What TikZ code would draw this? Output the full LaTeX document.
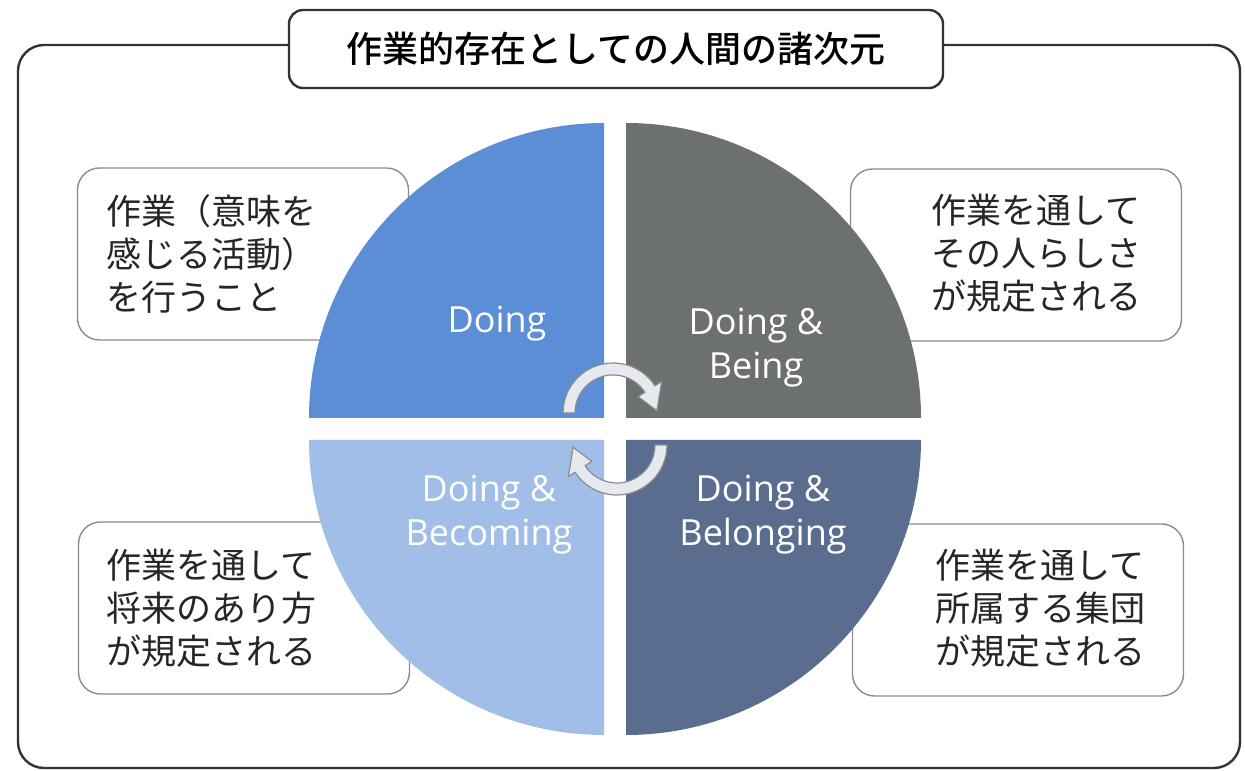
\documentclass[tikz,border=0pt]{standalone}
\usepackage{fontspec}
\setmainfont{Open Sans}
\newfontfamily\jpfont{Noto Sans CJK JP}
\newfontfamily\jptitle{Noto Sans CJK JP Medium}
\usepackage{tikz}
\usetikzlibrary{arrows,shapes}
\definecolor{qdoing}{HTML}{5C8ED6}
\definecolor{qbeing}{HTML}{6C706E}
\definecolor{qbecoming}{HTML}{A0BEE8}
\definecolor{qbelonging}{HTML}{5B6D8E}
\definecolor{turnfill}{HTML}{E6E9EF}

\begin{document}
\begin{tikzpicture}[x=1pt, y=1pt,
	notebox/.style={draw=black!45, line width=1.4pt, rounded corners=22pt, fill=white,
		minimum width=331pt, minimum height=172pt},
	notetext/.style={font=\jpfont\fontsize{35}{43}\selectfont, text=black!85, align=left,
		inner sep=0pt, anchor=west},
	quadlabel/.style={font=\fontsize{36}{44}\selectfont, text=white, align=center},
	turnarrow/.style={fill=turnfill, draw=black!45, line width=1.2pt}]
					\useasboundingbox (0,0) rectangle (1245,771);
					% Draw the outer frame
					\draw[black!80, line width=2.4pt, rounded corners=26pt] (18,3) rectangle (1240,726);
					% First we draw the note boxes, they sit behind the circle
					\foreach \pos/\name in {{(243,517)/noteTL}, {(1016,516)/noteTR},
					                        {(244,163)/noteBL}, {(1018,161)/noteBR}}
						\node[notebox] (\name) at \pos {};
					% Then the four quarters of the circle
					\foreach \cx/\cy/\start/\col in {604/353/90/qdoing, 626/353/0/qbeing,
					                                  604/331/180/qbecoming, 626/331/270/qbelonging}
						\fill[\col] (\cx,\cy) -- ++(\start:295) arc[start angle=\start, delta angle=90, radius=295] -- cycle;
					% Quarter labels
					\node[quadlabel, anchor=base] (doing) at (497,438) {Doing};
					\node[quadlabel] (being) at (756,423) {Doing \&\\Being};
					\node[quadlabel] (becoming) at (489,256) {Doing \&\\Becoming};
					\node[quadlabel] (belonging) at (763,256) {Doing \&\\Belonging};
					% The two turning arrows in the middle
					\filldraw[turnarrow, shift={(613,358)}] (180:50) arc[start angle=180, end angle=33, radius=50]
						-- (33:58) -- (3:44) -- (33:30) -- (33:38) arc[start angle=33, end angle=180, radius=38] -- cycle;
					\filldraw[turnarrow, shift={(617,326)}] (0:50) arc[start angle=0, end angle=-147, radius=50]
						-- (-147:58) -- (-177:44) -- (-147:30) -- (-147:38) arc[start angle=-147, end angle=0, radius=38] -- cycle;
					% Texts of the notes
					\node[notetext] (textTL) at (106,517) {作業（意味を\\感じる活動）\\を行うこと};
					\node[notetext] (textTR) at (931,518) {作業を通して\\その人らしさ\\が規定される};
					\node[notetext] (textBL) at (106,163) {作業を通して\\将来のあり方\\が規定される};
					\node[notetext] (textBR) at (935,163) {作業を通して\\所属する集団\\が規定される};
					% Title on top of the frame
					\node[draw=black!80, line width=2.4pt, rounded corners=14pt, fill=white,
						minimum width=654pt, minimum height=78pt,
						font=\jptitle\fontsize{36}{40}\selectfont] (title) at (616,722) {作業的存在としての人間の諸次元};
				\end{tikzpicture}
\end{document}
